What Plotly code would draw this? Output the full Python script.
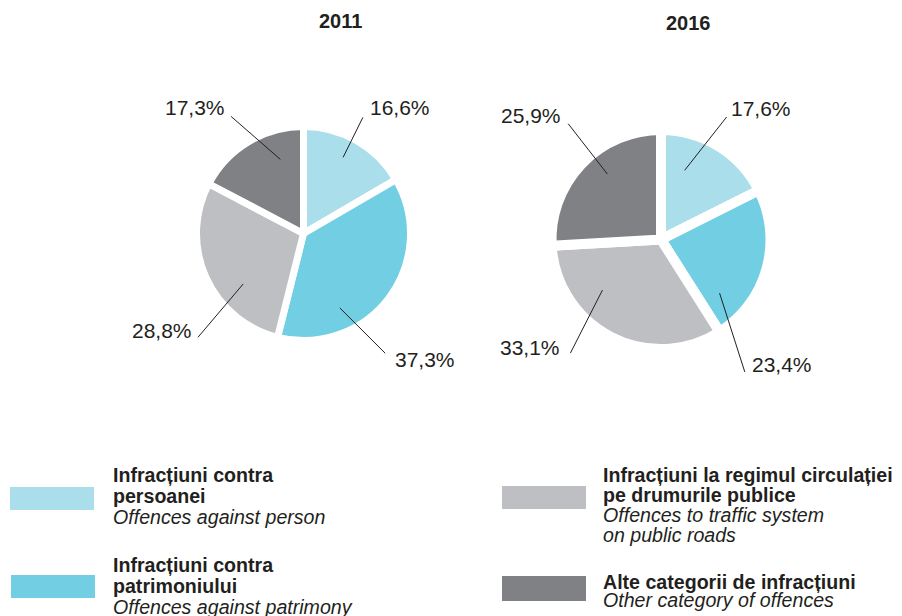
import math
import plotly.graph_objects as go

# ---------------- data ----------------
categories_ro = ["Infracțiuni contra persoanei", "Infracțiuni contra patrimoniului",
                 "Infracțiuni la regimul circulației pe drumurile publice", "Alte categorii de infracțiuni"]
categories_en = ["Offences against person", "Offences against patrimony",
                 "Offences to traffic system on public roads", "Other category of offences"]
years = ["2011", "2016"]
values_2011 = [16.6, 37.3, 28.8, 17.3]
values_2016 = [17.6, 23.4, 33.1, 25.9]

# ---------------- style ----------------
VIEW_W, VIEW_H = 902, 616
PAGE_MARGIN = 8                      # default body margin of the html page
W, H = VIEW_W - PAGE_MARGIN, VIEW_H - PAGE_MARGIN
colors = ["#AADEEB", "#72CEE2", "#BEBFC3", "#808185"]
text_color = "#231F20"
FONT = "Liberation Sans, Arial, Helvetica, sans-serif"
LEGEND_FONT = 19.6

pies = [
    dict(year=years[0], values=values_2011, cx=303.5, cy=233.5, r=103.5, gap=7,
         title=(340, 21),
         inner_off=[-2.4, 27.1, -15.8, 13.8], inner=[0.83, 0.80, 0.76, 0.75],
         outer_off=[-2.8, 18.8, -20.4, -0.6], outer=[1.26, 1.40, 1.43, 1.33],
         text_dx=[5, 8, 4, 4], text_dy=[-10, 6, -7, -9]),
    dict(year=years[1], values=values_2016, cx=661, cy=239.5, r=104.5, gap=10,
         title=(688, 23),
         inner_off=[-12.8, 27.0, 22.0, 7.3], inner=[0.70, 0.76, 0.74, 0.81],
         outer_off=[-3.5, 42.2, 11.4, 7.9], outer=[1.33, 1.50, 1.39, 1.42],
         text_dx=[2, 5, 8, 5], text_dy=[-8, -7, -6, -8]),
]


def px(x, y):
    """screen pixel -> paper coordinates"""
    return (x - PAGE_MARGIN) / W, 1 - (y - PAGE_MARGIN) / H


def ann(x, y, text, size, xanchor="center", bold=False, italic=False):
    X, Y = px(x, y)
    if bold:
        text = "<b>%s</b>" % text
    if italic:
        text = "<i>%s</i>" % text
    return dict(x=X, y=Y, xref="paper", yref="paper", text=text, showarrow=False,
                xanchor=xanchor, yanchor="middle", align="left",
                font=dict(size=size, color=text_color, family=FONT))


fig = go.Figure()
shapes = []
annotations = []

for p in pies:
    R = p["r"] + p["gap"] / 2
    x0p, y1p = px(p["cx"] - R, p["cy"] - R)
    x1p, y0p = px(p["cx"] + R, p["cy"] + R)
    fig.add_trace(go.Pie(
        values=p["values"], labels=categories_ro, sort=False, direction="clockwise", rotation=0,
        marker=dict(colors=colors, line=dict(color="white", width=p["gap"])),
        textinfo="none", hoverinfo="skip", showlegend=False,
        domain=dict(x=[x0p, x1p], y=[y0p, y1p]),
    ))
    annotations.append(ann(p["title"][0], p["title"][1], p["year"], 20, bold=True))
    total = sum(p["values"])
    cum = 0
    for i, v in enumerate(p["values"]):
        mid = (cum + v / 2) / total * 360
        cum += v
        ai = math.radians(mid + p["inner_off"][i])
        ao = math.radians(mid + p["outer_off"][i])
        xa = p["cx"] + p["inner"][i] * p["r"] * math.sin(ai)
        ya = p["cy"] - p["inner"][i] * p["r"] * math.cos(ai)
        xb = p["cx"] + p["outer"][i] * p["r"] * math.sin(ao)
        yb = p["cy"] - p["outer"][i] * p["r"] * math.cos(ao)
        X0, Y0 = px(xa, ya)
        X1, Y1 = px(xb, yb)
        shapes.append(dict(type="line", xref="paper", yref="paper", x0=X0, y0=Y0, x1=X1, y1=Y1,
                           line=dict(color=text_color, width=1)))
        right = xb > p["cx"]
        lx = xb + (p["text_dx"][i] if right else -p["text_dx"][i])
        ly = yb + p["text_dy"][i]
        annotations.append(ann(lx, ly, ("%.1f%%" % v).replace(".", ","), 21,
                               xanchor="left" if right else "right"))

# ---------------- custom legend ----------------
legend_items = [
    dict(box=(10, 487, 94, 510), tx=111, lines=[(475, "Infracțiuni contra", "b"), (496, "persoanei", "b"),
                                                (517, categories_en[0], "i")]),
    dict(box=(11, 575, 95, 598), tx=111, lines=[(565, "Infracțiuni contra", "b"), (586, "patrimoniului", "b"),
                                                (607, categories_en[1], "i")]),
    dict(box=(502, 486, 586, 509), tx=601, lines=[(475, "Infracțiuni la regimul circulației", "b"),
                                                  (495, "pe drumurile publice", "b"),
                                                  (515, "Offences to traffic system", "i"),
                                                  (535, "on public roads", "i")]),
    dict(box=(502, 576, 586, 601), tx=601, lines=[(582, categories_ro[3], "b"), (600, categories_en[3], "i")]),
]
for i, it in enumerate(legend_items):
    x0, y0, x1, y1 = it["box"]
    X0, Y0 = px(x0, y0)
    X1, Y1 = px(x1, y1)
    shapes.append(dict(type="rect", xref="paper", yref="paper", x0=X0, y0=Y1, x1=X1, y1=Y0,
                       fillcolor=colors[i], line=dict(width=0)))
    for (ly, txt, st) in it["lines"]:
        annotations.append(ann(it["tx"], ly, txt, LEGEND_FONT, xanchor="left",
                               bold=(st == "b"), italic=(st == "i")))

fig.update_layout(width=W, height=H, margin=dict(l=0, r=0, t=0, b=0),
                  paper_bgcolor="white", plot_bgcolor="white",
                  shapes=shapes, annotations=annotations)
fig.write_html("out.html")
